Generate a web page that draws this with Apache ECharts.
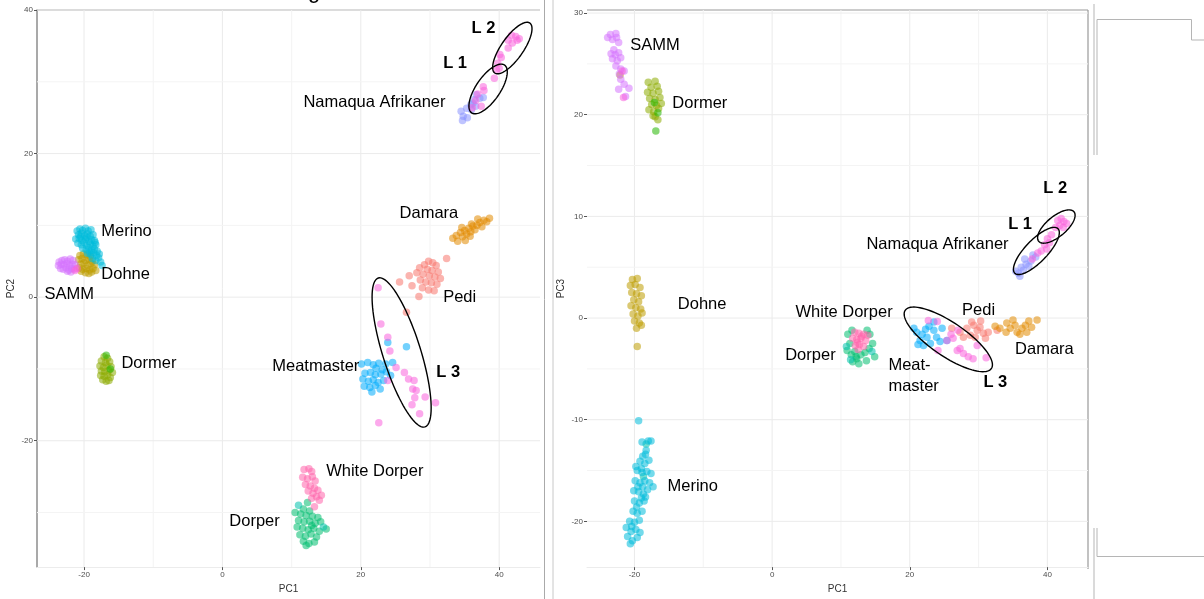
<!DOCTYPE html>
<html><head><meta charset="utf-8">
<script src="https://cdn.jsdelivr.net/npm/echarts@6/dist/echarts.min.js"></script>
<style>html,body{margin:0;padding:0;background:#fff}#c{width:1204px;height:599px}</style>
</head><body><div id="c"></div>
<script>
// ---------- tick labels ----------
const xTicks = [-20, 0, 20, 40];
const yTicksPC2 = [-20, 0, 20, 40];
const yTicksPC3 = [-20, -10, 0, 10, 20, 30];
const xGridMajor = [-20, 0, 20, 40], xGridMinor = [-10, 10, 30];
const yGridMajorPC2 = [-20, 0, 20, 40], yGridMinorPC2 = [-30, -10, 10, 30];
const yGridMajorPC3 = [-20, -10, 0, 10, 20, 30], yGridMinorPC3 = [-15, -5, 5, 15, 25];

// ---------- PC1 vs PC2 (left) ----------
const merinoPC2 = [[-21.0,9.2],[-20.6,9.5],[-20.2,9.3],[-19.8,9.6],[-19.4,9.2],[-19.0,9.4],[-20.8,8.7],[-20.4,8.9],[-19.9,8.6],[-19.5,8.8],[-19.1,8.5],[-18.7,8.7],[-21.2,8.1],[-20.7,8.2],[-20.3,7.9],[-19.8,8.1],[-19.3,7.8],[-18.9,8.0],[-18.5,7.9],[-20.9,7.5],[-20.4,7.3],[-20.0,7.6],[-19.6,7.2],[-19.1,7.4],[-18.7,7.1],[-18.3,7.3],[-20.2,6.8],[-19.7,6.6],[-19.3,6.9],[-18.9,6.5],[-18.5,6.7],[-18.1,6.4],[-19.5,6.1],[-19.0,5.9],[-18.6,6.2],[-18.2,5.8],[-17.8,6.0],[-18.8,5.4],[-18.3,5.1],[-17.9,5.5],[-17.6,4.9],[-17.4,4.4],[-19.2,6.3],[-20.5,8.4],[-19.6,8.3],[-18.4,7.6]];
const dohnePC2 = [[-20.6,5.8],[-20.1,6.0],[-19.6,5.9],[-19.1,5.7],[-20.8,5.2],[-20.3,5.4],[-19.8,5.1],[-19.3,5.3],[-18.8,5.0],[-20.5,4.6],[-20.0,4.8],[-19.5,4.4],[-19.0,4.7],[-18.5,4.5],[-20.7,4.1],[-20.2,3.9],[-19.7,4.0],[-19.2,3.8],[-18.7,4.0],[-18.3,3.7],[-19.8,3.4],[-19.3,3.3],[-18.9,3.5],[-20.4,3.6]];
const sammPC2 = [[-23.6,4.9],[-23.2,5.1],[-22.8,5.2],[-22.4,5.0],[-22.0,5.3],[-21.6,5.1],[-23.7,4.4],[-23.3,4.6],[-22.9,4.5],[-22.5,4.7],[-22.1,4.4],[-21.7,4.6],[-21.3,4.5],[-23.4,4.0],[-23.0,3.9],[-22.6,4.1],[-22.2,3.8],[-21.8,4.0],[-21.4,3.9],[-22.4,3.6],[-21.9,3.5]];
const dormerPC2 = [[-17.1,-8.3],[-16.6,-8.5],[-17.5,-8.9],[-16.9,-9.1],[-16.3,-9.0],[-17.7,-9.6],[-17.2,-9.8],[-16.7,-9.5],[-16.1,-9.7],[-17.5,-10.3],[-17.0,-10.4],[-16.4,-10.2],[-15.9,-10.5],[-17.6,-10.9],[-17.1,-11.0],[-16.6,-10.8],[-16.2,-11.2],[-17.3,-11.5],[-16.8,-11.7],[-16.4,-11.6]];
const green2PC2 = [[-16.8,-8.1],[-16.2,-10.0]];
const damaraPC2 = [[33.3,8.2],[33.8,8.6],[34.0,7.8],[34.4,9.0],[34.7,8.4],[35.0,9.3],[35.3,8.8],[35.1,7.9],[35.6,9.6],[35.9,9.1],[36.2,9.9],[36.5,9.4],[36.0,10.2],[36.8,10.0],[37.2,10.4],[37.5,9.8],[37.8,10.7],[38.2,10.5],[38.6,11.0],[34.6,9.7],[35.8,8.5],[36.9,10.9]];
const pediPC2 = [[32.4,5.4],[29.8,5.0],[30.4,4.8],[29.2,4.5],[30.9,4.4],[28.5,4.1],[29.6,3.9],[30.3,3.7],[31.2,3.5],[28.1,3.4],[29.0,3.2],[29.9,3.0],[30.7,2.8],[31.5,2.6],[28.6,2.4],[29.4,2.1],[30.2,2.0],[31.0,1.8],[27.4,1.6],[28.9,1.3],[29.8,1.0],[25.6,2.1],[27.0,3.0],[28.4,0.1],[30.6,0.9],[26.6,-2.1]];
const meatmasterPC2 = [[23.9,-6.3],[26.6,-6.9],[20.1,-9.3],[21.0,-9.1],[21.8,-9.4],[22.6,-9.2],[23.6,-9.3],[24.6,-9.1],[22.2,-9.9],[23.1,-10.1],[20.6,-10.6],[21.4,-10.5],[22.1,-10.8],[22.9,-10.7],[23.7,-10.4],[20.3,-11.4],[21.1,-11.7],[21.8,-11.5],[22.5,-11.9],[23.3,-11.6],[20.5,-12.4],[21.3,-12.6],[22.1,-12.3],[22.8,-12.8],[21.6,-13.2],[24.3,-10.9]];
const namaquaPC2 = [[34.5,25.9],[34.8,25.2],[35.3,26.3],[34.7,24.6],[35.4,25.0],[36.0,26.1],[36.2,27.0],[36.7,28.2],[37.2,27.7],[37.7,27.8],[36.4,27.5],[35.9,26.8],[36.6,26.6]];
const pinkPC2 = [[41.3,35.8],[41.8,36.5],[42.4,36.3],[42.6,35.8],[41.9,35.4],[42.9,36.0],[41.3,34.7],[40.1,33.8],[40.3,33.4],[39.8,32.6],[40.0,31.9],[39.6,31.6],[39.3,30.5],[37.7,29.3],[37.8,28.8],[36.9,28.3],[36.1,26.4],[37.4,26.6],[36.6,27.4],
  [22.5,1.3],[22.9,-3.75],[23.9,-5.6],[24.2,-7.5],[25.1,-9.8],[26.3,-10.5],[26.9,-11.4],[27.7,-11.6],[27.5,-12.8],[28.0,-13.0],[29.3,-13.9],[27.8,-14.0],[30.8,-14.7],[27.4,-15.0],[28.5,-16.25],[22.6,-17.5],[23.9,-11.6],[-21.0,4.0],[-21.3,3.7]];
const whiteDorperPC2 = [[11.8,-24.0],[12.5,-23.9],[12.9,-24.3],[11.6,-25.1],[12.3,-25.3],[13.0,-25.0],[13.4,-25.6],[12.0,-26.1],[12.7,-26.3],[13.3,-26.6],[13.8,-26.9],[12.4,-27.0],[13.1,-27.3],[13.6,-27.8],[14.3,-27.6],[12.9,-28.0],[14.0,-28.3],[13.3,-29.2]];
const dorperPC2 = [[12.3,-28.6],[11.7,-29.5],[12.6,-29.8],[10.5,-30.0],[11.3,-30.2],[12.1,-30.4],[13.0,-30.5],[13.8,-30.7],[11.0,-31.1],[11.8,-31.3],[12.6,-31.2],[13.4,-31.5],[14.2,-31.3],[10.8,-32.0],[11.6,-32.2],[12.4,-32.4],[13.2,-32.2],[14.0,-32.6],[15.0,-32.3],[11.2,-33.1],[12.0,-33.3],[12.8,-33.0],[13.6,-33.4],[11.7,-34.0],[12.5,-34.3],[13.3,-34.1],[12.1,-34.6],[12.9,-31.8]];
const tealPC2 = [[11.0,-29.0],[14.6,-32.0]];

// ---------- PC1 vs PC3 (right) ----------
const sammPC3 = [[-23.5,27.9],[-22.7,28.0],[-23.9,27.6],[-23.2,27.4],[-22.3,27.1],[-23.0,26.4],[-22.3,26.1],[-23.4,26.0],[-23.2,25.5],[-22.5,25.3],[-22.0,25.6],[-22.7,24.8],[-22.0,24.5],[-21.5,24.3],[-22.2,24.0],[-22.0,23.5],[-21.5,23.0],[-22.3,22.5],[-20.8,22.6],[-21.3,21.8],[-22.8,25.9],[-22.6,27.6]];
const dormerPC3 = [[-18.0,23.2],[-17.0,23.3],[-17.6,22.7],[-16.7,22.8],[-18.1,22.2],[-17.3,22.1],[-16.5,22.3],[-17.8,21.6],[-17.0,21.5],[-16.3,21.7],[-17.5,21.0],[-16.8,20.9],[-16.1,21.1],[-17.9,20.5],[-17.2,20.3],[-16.5,20.6],[-17.0,19.8],[-16.6,19.5],[-17.3,19.9]];
const green2PC3 = [[-16.9,18.4],[-17.1,21.2],[-16.6,20.2]];
const dohnePC3 = [[-20.3,3.8],[-19.6,3.9],[-20.6,3.2],[-19.9,3.3],[-19.2,3.0],[-20.4,2.5],[-19.7,2.4],[-19.0,2.2],[-20.1,1.8],[-19.4,1.6],[-20.5,1.2],[-19.8,1.0],[-19.1,0.9],[-20.2,0.4],[-19.5,0.2],[-18.9,0.5],[-20.0,-0.3],[-19.3,-0.5],[-19.7,-1.0],[-19.0,-0.7],[-19.6,-2.8],[-22.1,23.9]];
const merinoPC3 = [[-19.4,-10.1],[-18.9,-12.2],[-18.0,-12.1],[-17.6,-12.1],[-18.3,-13.0],[-18.8,-13.6],[-19.2,-14.1],[-18.5,-14.3],[-17.9,-14.0],[-19.6,-15.0],[-18.9,-15.2],[-18.2,-15.1],[-17.6,-15.3],[-19.9,-16.0],[-19.2,-16.2],[-18.5,-16.0],[-17.8,-16.2],[-17.3,-16.6],[-20.1,-17.0],[-19.4,-17.1],[-18.7,-17.3],[-18.1,-16.9],[-20.0,-18.0],[-19.3,-18.2],[-18.6,-18.0],[-20.2,-19.0],[-19.6,-19.2],[-18.9,-19.0],[-20.7,-20.0],[-20.0,-20.1],[-19.3,-19.9],[-21.2,-20.6],[-20.5,-21.0],[-19.8,-20.8],[-19.2,-21.1],[-21.0,-21.5],[-20.3,-21.9],[-19.6,-21.6],[-20.6,-22.2],[-19.0,-17.7],[-18.4,-17.6],[-19.8,-14.6],[-18.4,-13.4],[-19.5,-16.6],[-18.8,-16.6],[-19.7,-18.6],[-20.4,-20.5],[-19.0,-14.8]];
const tealPC3 = [[-18.3,-12.4],[-18.7,-15.6],[10.8,-2.8],[14.5,-3.3],[11.4,-4.1]];
const namaquaPC3 = [[35.4,4.6],[35.8,4.4],[36.2,5.0],[36.5,4.7],[36.9,5.3],[37.3,5.1],[36.7,5.8],[37.6,5.6],[37.9,6.2],[38.3,6.0],[36.0,4.1]];
const pinkPC3 = [[41.5,9.6],[42.0,9.8],[42.4,9.5],[42.8,9.3],[41.8,9.1],[42.3,8.9],[41.2,8.9],[40.6,8.2],[40.0,7.8],[40.3,7.4],[39.6,7.2],[39.1,6.6],[38.6,6.4],[37.8,5.8],[39.9,6.8],
  [22.7,-0.25],[24.0,-0.35],[25.4,-2.2],[26.3,-2.0],[26.9,-3.2],[27.3,-3.0],[27.8,-3.5],[28.5,-3.8],[29.2,-4.0],[31.1,-3.9],[24.1,-3.2],[29.8,-2.7],[27.0,-1.2],[26.0,-1.6],
  [-21.8,24.3],[-21.6,21.7]];
const whiteDorperPC3 = [[12.0,-1.4],[12.6,-1.5],[13.3,-1.6],[11.7,-2.0],[12.3,-2.1],[12.9,-2.0],[13.6,-2.2],[12.1,-2.7],[12.7,-2.6],[13.3,-2.8],[12.5,-3.1],[13.0,-1.8],[12.4,-2.4],[13.9,-1.7]];
const dorperPC3 = [[11.0,-1.6],[11.3,-2.5],[10.9,-3.2],[11.5,-3.6],[12.0,-3.3],[12.3,-4.0],[12.9,-3.6],[13.5,-3.4],[14.1,-3.0],[14.6,-2.5],[14.2,-1.6],[13.7,-4.2],[12.6,-4.5],[11.7,-4.3],[11.6,-1.2],[13.8,-1.2],[14.9,-3.8],[12.2,-3.8]];
const meatmasterPC3 = [[20.6,-1.0],[21.0,-1.4],[21.5,-2.2],[21.8,-1.6],[22.0,-2.7],[22.5,-1.9],[22.3,-1.1],[23.0,-2.5],[23.5,-1.2],[23.9,-1.9],[24.4,-2.3],[23.5,-0.4],[24.7,-1.0],[25.4,-2.2],[22.8,-0.8],[21.2,-2.6]];
const pediPC3 = [[26.1,-1.0],[27.3,-1.4],[28.3,-1.0],[29.3,-0.7],[29.8,-1.2],[30.2,-0.9],[30.7,-1.5],[31.4,-1.4],[28.8,-1.7],[29.5,-1.9],[27.8,-1.9],[32.7,-1.2],[30.3,-0.3],[29.0,-0.4],[31.0,-2.0]];
const damaraPC3 = [[33.1,-1.0],[34.1,-0.5],[34.6,-1.0],[35.3,-0.7],[35.6,-1.4],[36.3,-1.0],[36.8,-0.7],[37.0,-1.4],[37.7,-0.9],[38.5,-0.2],[35.0,-0.2],[34.0,-1.4],[36.0,-1.6],[32.4,-0.8],[37.3,-0.3]];

// ---------- annotations ----------
const labelsPC2 = [
  ['L 2', 36.0, 37.4, true], ['L 1', 31.9, 32.6, true], ['Namaqua Afrikaner', 11.7, 27.1, false],
  ['Damara', 25.6, 11.7, false], ['Pedi', 31.9, 0.0, false], ['Meatmaster', 7.2, -9.65, false],
  ['L 3', 30.9, -10.5, true], ['Merino', -17.5, 9.2, false], ['Dohne', -17.5, 3.1, false],
  ['SAMM', -25.7, 0.4, false], ['Dormer', -14.6, -9.2, false], ['White Dorper', 15.0, -24.3, false],
  ['Dorper', 1.0, -31.2, false]
];
const labelsPC3 = [
  ['SAMM', -20.6, 26.8, false], ['Dormer', -14.5, 21.1, false], ['L 2', 39.4, 12.7, true],
  ['L 1', 34.3, 9.2, true], ['Namaqua Afrikaner', 13.7, 7.2, false], ['Dohne', -13.7, 1.3, false],
  ['White Dorper', 3.4, 0.5, false], ['Pedi', 27.6, 0.7, false], ['Dorper', 1.9, -3.65, false],
  ['Damara', 35.3, -3.1, false], ['Meat-', 16.9, -4.7, false], ['master', 16.9, -6.7, false],
  ['L 3', 30.7, -6.3, true], ['Merino', -15.2, -16.55, false]
];
const ellipsesPC2 = [[41.9, 34.7], [38.4, 29.0], [25.9, -7.7]];
const ellipsesPC3 = [[25.6, -2.1], [41.3, 9.0], [38.4, 6.6]];
const ellipseShapePC2 = [{a:30.5,b:11,rot:-55},{a:29,b:12,rot:-55.5},{a:78,b:19,rot:72.6}];
const ellipseShapePC3 = [{a:52,b:17,rot:34},{a:23,b:10,rot:-40},{a:31,b:11,rot:-46}];

const groups = [
  {name:'Pedi', color:'#F8766D', pc2:pediPC2, pc3:pediPC3},
  {name:'Damara', color:'#E18A00', pc2:damaraPC2, pc3:damaraPC3},
  {name:'Dohne', color:'#BE9C00', pc2:dohnePC2, pc3:dohnePC3},
  {name:'Dormer', color:'#8CAB00', pc2:dormerPC2, pc3:dormerPC3},
  {name:'Group 5', color:'#24B700', pc2:green2PC2, pc3:green2PC3},
  {name:'Dorper', color:'#00BE70', pc2:dorperPC2, pc3:dorperPC3},
  {name:'Group 7', color:'#00C1AB', pc2:tealPC2, pc3:tealPC3},
  {name:'Merino', color:'#00BBDA', pc2:merinoPC2, pc3:merinoPC3},
  {name:'Meatmaster', color:'#00ACFC', pc2:meatmasterPC2, pc3:meatmasterPC3},
  {name:'Namaqua Afrikaner', color:'#8B93FF', pc2:namaquaPC2, pc3:namaquaPC3},
  {name:'SAMM', color:'#D575FE', pc2:sammPC2, pc3:sammPC3},
  {name:'L', color:'#F962DD', pc2:pinkPC2, pc3:pinkPC3},
  {name:'White Dorper', color:'#FF65AC', pc2:whiteDorperPC2, pc3:whiteDorperPC3}
];

const chart = echarts.init(document.getElementById('c'), null, {renderer:'canvas'});
const FONT = '"Liberation Sans", Arial, sans-serif';

function gridLineSeries(idx, xMaj, xMin, yMaj, yMin) {
  const list = [];
  xMaj.forEach(v => list.push({d:'x', v, m:true}));
  xMin.forEach(v => list.push({d:'x', v, m:false}));
  yMaj.forEach(v => list.push({d:'y', v, m:true}));
  yMin.forEach(v => list.push({d:'y', v, m:false}));
  return {
    type:'custom', xAxisIndex:idx, yAxisIndex:idx, z:1, silent:true,
    data: list.map(g => g.d === 'x' ? [g.v, 0] : [0, g.v]),
    renderItem(params, api) {
      const g = list[params.dataIndex];
      const cs = params.coordSys;
      const p = api.coord([api.value(0), api.value(1)]);
      const stroke = g.m ? '#ebebeb' : '#f4f4f4';
      if (g.d === 'x') return {type:'line', shape:{x1:p[0], y1:cs.y, x2:p[0], y2:cs.y+cs.height}, style:{stroke, lineWidth:1}};
      return {type:'line', shape:{x1:cs.x, y1:p[1], x2:cs.x+cs.width, y2:p[1]}, style:{stroke, lineWidth:1}};
    }
  };
}
function ellipseSeries(idx, centers, shapes) {
  return {
    type:'custom', xAxisIndex:idx, yAxisIndex:idx, z:5, silent:true, data:centers,
    renderItem(params, api) {
      const s = shapes[params.dataIndex];
      const c = api.coord([api.value(0), api.value(1)]);
      const th = s.rot * Math.PI / 180, pts = [];
      for (let i = 0; i < 96; i++) {
        const t = i / 96 * 2 * Math.PI, x = s.a * Math.cos(t), y = s.b * Math.sin(t);
        pts.push([c[0] + x*Math.cos(th) - y*Math.sin(th), c[1] + x*Math.sin(th) + y*Math.cos(th)]);
      }
      return {type:'polygon', shape:{points:pts}, style:{fill:'none', stroke:'#000', lineWidth:1.4}};
    }
  };
}
function labelSeries(idx, labels) {
  return {
    type:'custom', xAxisIndex:idx, yAxisIndex:idx, z:6, silent:true,
    data: labels.map(l => [l[1], l[2]]),
    renderItem(params, api) {
      const l = labels[params.dataIndex];
      const c = api.coord([api.value(0), api.value(1)]);
      return {type:'text', x:c[0], y:c[1], style:{text:l[0], fill:'#000', align:'left', verticalAlign:'middle',
        font:(l[3] ? 'bold ' : '') + '16.5px ' + FONT}};
    }
  };
}
function axisCommon(ticks) {
  return {
    splitLine:{show:false},
    axisTick:{show:true, length:3, customValues:ticks, lineStyle:{color:'#555', width:1}},
    axisLabel:{customValues:ticks, fontSize:8, color:'#4d4d4d', margin:4, fontFamily:FONT}
  };
}

const series = [
  gridLineSeries(0, xGridMajor, xGridMinor, yGridMajorPC2, yGridMinorPC2),
  gridLineSeries(1, xGridMajor, xGridMinor, yGridMajorPC3, yGridMinorPC3)
];
groups.forEach(g => {
  [['pc2',0],['pc3',1]].forEach(([k, idx]) => {
    series.push({type:'scatter', name:g.name, xAxisIndex:idx, yAxisIndex:idx, data:g[k], symbolSize:7.5, z:2,
      itemStyle:{color:g.color, opacity:0.55}, silent:true});
  });
});
series.push(ellipseSeries(0, ellipsesPC2, ellipseShapePC2), ellipseSeries(1, ellipsesPC3, ellipseShapePC3));
series.push(labelSeries(0, labelsPC2), labelSeries(1, labelsPC3));

const gray = '#b5b5b5';
chart.setOption({
  animation:false,
  backgroundColor:'#fff',
  grid:[{left:37, top:10, width:503, height:559}, {left:587, top:10, width:501, height:559}],
  xAxis:[
    Object.assign({type:'value', gridIndex:0, min:-26.8, max:45.9, name:'PC1', nameLocation:'middle', nameGap:14,
      nameTextStyle:{fontSize:10, color:'#333', fontFamily:FONT},
      axisLine:{show:true, onZero:false, lineStyle:{color:'#ececec', width:1}}}, axisCommon(xTicks)),
    Object.assign({type:'value', gridIndex:1, min:-26.9, max:45.9, name:'PC1', nameLocation:'middle', nameGap:14,
      nameTextStyle:{fontSize:10, color:'#333', fontFamily:FONT},
      axisLine:{show:true, onZero:false, lineStyle:{color:'#ececec', width:1}}}, axisCommon(xTicks))
  ],
  yAxis:[
    Object.assign({type:'value', gridIndex:0, min:-37.6, max:40, name:'PC2', nameLocation:'middle', nameGap:21,
      nameTextStyle:{fontSize:10, color:'#333', fontFamily:FONT},
      axisLine:{show:true, onZero:false, lineStyle:{color:'#8c8c8c', width:1.5}}}, axisCommon(yTicksPC2)),
    Object.assign({type:'value', gridIndex:1, min:-24.5, max:30.3, name:'PC3', nameLocation:'middle', nameGap:21,
      nameTextStyle:{fontSize:10, color:'#333', fontFamily:FONT},
      axisLine:{show:false, onZero:false}}, axisCommon(yTicksPC3))
  ],
  graphic:[
    {type:'line', shape:{x1:37, y1:10, x2:540, y2:10}, style:{stroke:'#999', lineWidth:1.2}},
    {type:'line', shape:{x1:587, y1:10, x2:1088, y2:10}, style:{stroke:'#999', lineWidth:1.2}},
    {type:'line', shape:{x1:1088, y1:10, x2:1088, y2:569}, style:{stroke:'#999', lineWidth:1.2}},
    {type:'line', shape:{x1:544.5, y1:0, x2:544.5, y2:599}, style:{stroke:'#aaa', lineWidth:1}},
    {type:'line', shape:{x1:553, y1:0, x2:553, y2:599}, style:{stroke:'#c8c8c8', lineWidth:1}},
    {type:'polyline', shape:{points:[[1094,4],[1094,155]]}, style:{stroke:gray, fill:null, lineWidth:1}},
    {type:'polyline', shape:{points:[[1097,155],[1097,19.5],[1191.5,19.5],[1191.5,40],[1204,40]]}, style:{stroke:gray, fill:null, lineWidth:1}},
    {type:'polyline', shape:{points:[[1094,528],[1094,599]]}, style:{stroke:gray, fill:null, lineWidth:1}},
    {type:'polyline', shape:{points:[[1097,528],[1097,556.5],[1204,556.5]]}, style:{stroke:gray, fill:null, lineWidth:1}},
    {type:'text', x:308, y:-19, style:{text:'g', font:'22px ' + FONT, fill:'#000'}}
  ],
  series
});
</script></body></html>
